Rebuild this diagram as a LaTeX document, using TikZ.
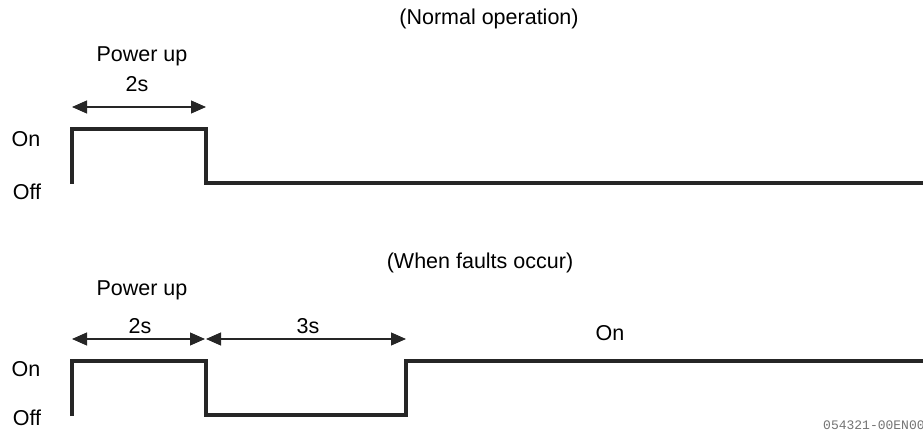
\documentclass[tikz,border=0pt]{standalone}
\usepackage{fontspec}
\setmainfont{Liberation Sans}
\newfontfamily\codefont{Liberation Mono}
\usetikzlibrary{arrows.meta}
\begin{document}
\begin{tikzpicture}[x=1pt,y=-1pt,
  lbl/.style={inner sep=0pt,font=\fontsize{21.5}{25}\selectfont},
  wave/.style={line width=3.8pt,color=black!85,line join=miter},
  dim/.style={line width=1.1pt,color=black!85,{Triangle[length=15pt,width=13pt]}-{Triangle[length=15pt,width=13pt]}}]
\useasboundingbox (0,0) rectangle (923,430);
\clip (0,0) rectangle (923,430);
% top
\node[lbl] (t1) at (489,19) {(Normal operation)};
\node[lbl] (p1) at (142,56) {Power up};
\node[lbl] (s1) at (137,84) {2s};
\node[lbl] (on1) at (26,139) {On};
\node[lbl] (off1) at (27,192) {Off};
\coordinate (a1) at (72,107);
\coordinate (b1) at (206,107);
\draw[dim] (a1) -- (b1);
\coordinate (w1) at (72,184);
\coordinate (w2) at (72,129);
\coordinate (w3) at (206,129);
\coordinate (w4) at (206,183);
\coordinate (w5) at (925,183);
\draw[wave] (w1) -- (w2) -- (w3) -- (w4) -- (w5);
% bottom
\node[lbl] (t2) at (480,263) {(When faults occur)};
\node[lbl] (p2) at (142,290) {Power up};
\node[lbl] (s2) at (140,326) {2s};
\node[lbl] (s3) at (308,326) {3s};
\node[lbl] (on3) at (610,333) {On};
\node[lbl] (on2) at (26,369) {On};
\node[lbl] (off2) at (27,418) {Off};
\coordinate (a2) at (72,339);
\coordinate (b2) at (205,339);
\coordinate (c2) at (206,339);
\coordinate (d2) at (406,339);
\draw[dim] (a2) -- (b2);
\draw[dim] (c2) -- (d2);
\coordinate (v1) at (72,416);
\coordinate (v2) at (72,361);
\coordinate (v3) at (206,361);
\coordinate (v4) at (206,415);
\coordinate (v5) at (406,415);
\coordinate (v6) at (406,361);
\coordinate (v7) at (925,361);
\draw[wave] (v1) -- (v2) -- (v3) -- (v4) -- (v5) -- (v6) -- (v7);
\node[anchor=west,inner sep=0pt,text=black!55,font=\codefont\fontsize{13}{15}\selectfont] (code) at (823,425) {054321-00EN00};
\end{tikzpicture}
\end{document}
